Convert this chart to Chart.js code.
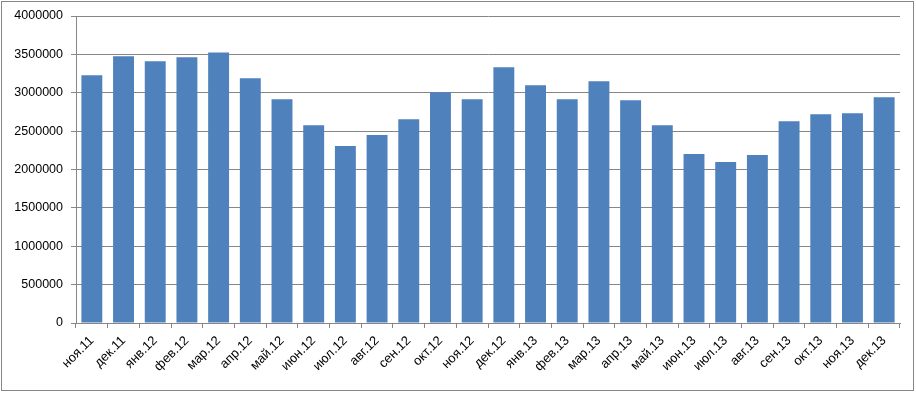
<!DOCTYPE html>
<html>
<head>
<meta charset="utf-8">
<script src="https://cdn.jsdelivr.net/npm/chart.js@4/dist/chart.umd.min.js"></script>
<style>
html,body{margin:0;padding:0;background:#fff;}
#wrap{width:916px;height:393px;position:relative;}
</style>
</head>
<body>
<div id="wrap"><canvas id="c" width="916" height="393"></canvas></div>
<script>
const categories = ["ноя.11","дек.11","янв.12","фев.12","мар.12","апр.12","май.12","июн.12","июл.12","авг.12","сен.12","окт.12","ноя.12","дек.12","янв.13","фев.13","мар.13","апр.13","май.13","июн.13","июл.13","авг.13","сен.13","окт.13","ноя.13","дек.13"];
const values = [3227000,3474000,3409000,3461000,3526000,3188000,2916000,2578000,2305000,2448000,2656000,3006000,2916000,3331000,3097000,2916000,3149000,2903000,2578000,2201000,2097000,2188000,2630000,2721000,2734000,2942000];
const yMin = 0, yMax = 4000000, yStep = 500000;

const borderPlugin = {
  id: 'outerBorder',
  beforeDraw(chart) {
    const ctx = chart.ctx;
    ctx.save();
    ctx.fillStyle = '#ffffff';
    ctx.fillRect(0, 0, chart.width, chart.height);
    ctx.strokeStyle = '#868686';
    ctx.lineWidth = 1;
    ctx.strokeRect(1.5, 1.5, 912, 389);
    ctx.restore();
  }
};

new Chart(document.getElementById('c'), {
  type: 'bar',
  data: {
    labels: categories,
    datasets: [{
      data: values,
      backgroundColor: '#4F81BD',
      borderWidth: 0,
      barPercentage: 0.66,
      categoryPercentage: 1.0
    }]
  },
  plugins: [borderPlugin],
  options: {
    responsive: false,
    animation: false,
    devicePixelRatio: 1,
    layout: { padding: { top: 16, right: 16, left: 10, bottom: 0 } },
    plugins: { legend: { display: false }, tooltip: { enabled: false } },
    scales: {
      x: {
        offset: true,
        grid: { display: true, drawOnChartArea: false, drawTicks: true, tickLength: 5, color: '#868686', offset: true },
        border: { display: true, color: '#868686' },
        ticks: { color: '#000', font: { family: 'Liberation Sans', size: 13 }, maxRotation: 45, minRotation: 45, autoSkip: false, padding: 5 },
        afterFit(s) { s.height = 70; }
      },
      y: {
        min: yMin, max: yMax,
        grid: { color: '#868686', tickLength: 5, drawTicks: true },
        border: { display: true, color: '#868686' },
        ticks: { stepSize: yStep, color: '#000', font: { family: 'Liberation Sans', size: 12.5 }, padding: 8, callback: v => String(v) },
        afterFit(s) { s.width = 66; }
      }
    }
  }
});
</script>
</body>
</html>
